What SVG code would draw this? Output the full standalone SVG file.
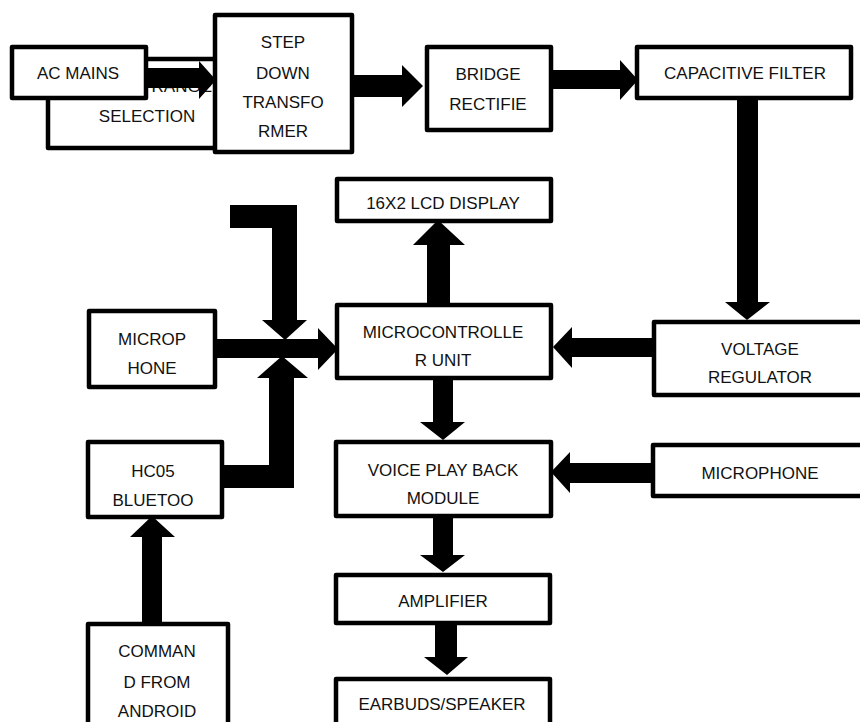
<svg xmlns="http://www.w3.org/2000/svg" width="860" height="722" viewBox="0 0 860 722">
<style>
.box{fill:#fff;stroke:#000;stroke-width:4.5;stroke-linejoin:round}
.t{font-family:"Liberation Sans",Arial,sans-serif;font-size:17px;fill:#111;text-anchor:middle}
.ar{fill:#000}
</style>
<rect width="860" height="722" fill="#fff"/>
<g id="selection">
<rect class="box" x="48" y="59" width="170" height="89"/>
<text class="t" x="212" y="92" text-anchor="end" style="text-anchor:end">RANGE</text>
<text class="t" x="147" y="122">SELECTION</text>
</g>
<g id="connectors">
<polygon class="ar" points="146,68 199,68 199,61 216,80 199,99 199,88 146,88"/>
<polygon class="ar" points="354,75 402,75 402,65 423,86 402,107 402,97 354,97"/>
<polygon class="ar" points="553,70 620,70 620,60 638,80 620,100 620,89 553,89"/>
<polygon class="ar" points="737,100 758,100 758,302 770,302 747,320 725,302 737,302"/>
<polygon class="ar" points="652,338 572,338 572,327 553,347 572,368 572,357 652,357"/>
<polygon class="ar" points="427,303 427,245 413,245 438,220 465,245 450,245 450,303"/>
<polygon class="ar" points="433,380 433,422 420,422 443,440 465,422 453,422 453,380"/>
<polygon class="ar" points="651,463 570,463 570,452 551,472 570,493 570,483 651,483"/>
<polygon class="ar" points="433,518 433,555 420,555 443,572 465,555 453,555 453,518"/>
<polygon class="ar" points="435,625 435,657 424,657 447,675 468,657 457,657 457,625"/>
<polygon class="ar" points="142,624 142,537 130,537 152,516 175,537 162,537 162,624"/>
<polygon class="ar" points="230,205 297,205 297,320 307,320 285,340 262,320 272,320 272,228 230,228"/>
<polygon class="ar" points="217,339 318,339 318,328 338,349 318,370 318,358 217,358"/>
<polygon class="ar" points="223,465 269,465 269,378 257,378 282,356 308,378 294,378 294,488 223,488"/>
</g>
<g id="ac-mains">
<rect class="box" x="12" y="47" width="134" height="51"/>
<text class="t" x="78" y="79">AC MAINS</text>
</g>
<g id="step-down">
<rect class="box" x="215" y="15" width="137" height="137"/>
<text class="t" x="283" y="48">STEP</text>
<text class="t" x="283" y="79">DOWN</text>
<text class="t" x="283" y="108">TRANSFO</text>
<text class="t" x="283" y="137">RMER</text>
</g>
<g id="bridge">
<rect class="box" x="427" y="47" width="124" height="83"/>
<text class="t" x="488" y="80">BRIDGE</text>
<text class="t" x="488" y="110">RECTIFIE</text>
</g>
<g id="cap-filter">
<rect class="box" x="637" y="47" width="214" height="51"/>
<text class="t" x="745" y="79">CAPACITIVE FILTER</text>
</g>
<g id="lcd">
<rect class="box" x="337" y="179" width="214" height="42"/>
<text class="t" x="443" y="209">16X2 LCD DISPLAY</text>
</g>
<g id="mcu">
<rect class="box" x="337" y="305" width="214" height="73"/>
<text class="t" x="443" y="338">MICROCONTROLLE</text>
<text class="t" x="443" y="366">R UNIT</text>
</g>
<g id="regulator">
<rect class="box" x="654" y="322" width="220" height="73"/>
<text class="t" x="760" y="355">VOLTAGE</text>
<text class="t" x="760" y="383">REGULATOR</text>
</g>
<g id="microp-hone">
<rect class="box" x="89" y="311" width="126" height="76"/>
<text class="t" x="152" y="345">MICROP</text>
<text class="t" x="152" y="374">HONE</text>
</g>
<g id="hc05">
<rect class="box" x="88" y="442" width="134" height="75"/>
<text class="t" x="153" y="477">HC05</text>
<text class="t" x="153" y="506">BLUETOO</text>
</g>
<g id="voice">
<rect class="box" x="336" y="442" width="215" height="74"/>
<text class="t" x="443" y="476">VOICE PLAY BACK</text>
<text class="t" x="443" y="504">MODULE</text>
</g>
<g id="microphone">
<rect class="box" x="653" y="445" width="220" height="51"/>
<text class="t" x="760" y="479">MICROPHONE</text>
</g>
<g id="amplifier">
<rect class="box" x="336" y="575" width="214" height="48"/>
<text class="t" x="443" y="607">AMPLIFIER</text>
</g>
<g id="earbuds">
<rect class="box" x="336" y="679" width="214" height="60"/>
<text class="t" x="442" y="710">EARBUDS/SPEAKER</text>
</g>
<g id="command">
<rect class="box" x="88" y="624" width="140" height="110"/>
<text class="t" x="157" y="657">COMMAN</text>
<text class="t" x="157" y="688">D FROM</text>
<text class="t" x="157" y="717">ANDROID</text>
</g>
</svg>
